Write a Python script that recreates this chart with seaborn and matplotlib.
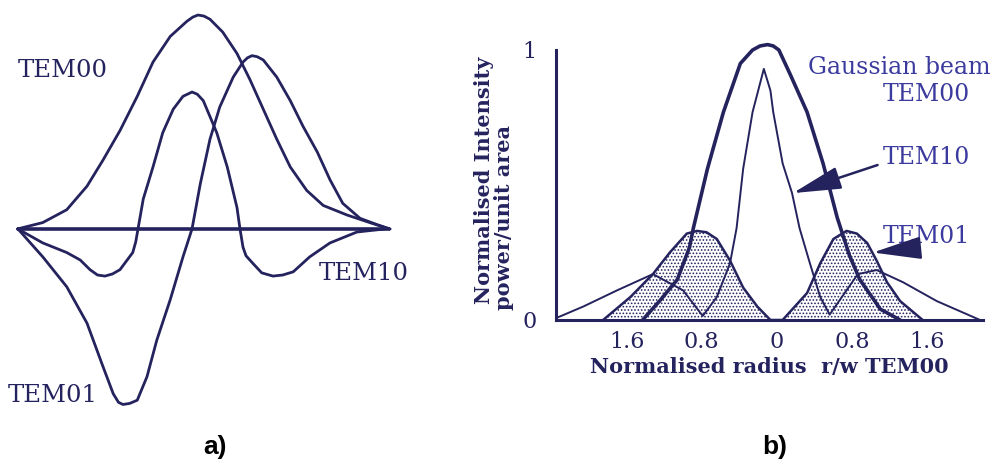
import matplotlib
matplotlib.use("Agg")
import matplotlib.pyplot as plt
import seaborn as sns

# style
sns.set_style("white")
plt.rcParams["font.family"] = ["DejaVu Serif"]
plt.rcParams["hatch.linewidth"] = 0.75

navy = "#25235e"
blue = "#3b3a9e"

# ---- panel a: field amplitude profiles
a_tem00_x = [-2.41, -2.07, -1.75, -1.48, -1.27, -1.04, -0.81, -0.60, -0.37, -0.15, -0.07,
             0.0, 0.08, 0.16, 0.33, 0.52, 0.69, 0.87, 1.05, 1.23, 1.45, 1.67, 1.99, 2.29, 2.56]
a_tem00_y = [0.0, 0.03, 0.09, 0.20, 0.32, 0.46, 0.62, 0.78, 0.90, 0.97, 0.99,
             1.0, 0.995, 0.98, 0.92, 0.82, 0.70, 0.56, 0.42, 0.29, 0.18, 0.11, 0.065, 0.03, 0.0]

a_tem10_x = [-2.40, -2.07, -1.75, -1.57, -1.44, -1.34, -1.24, -1.14, -1.04, -0.87, -0.83,
             -0.80, -0.73, -0.60, -0.47, -0.33, -0.20, -0.08, -0.01, 0.07, 0.25, 0.39,
             0.52, 0.56, 0.60, 0.64, 0.73, 0.85, 1.00, 1.13, 1.27, 1.49, 1.76, 2.12, 2.49]
a_tem10_y = [0.0, -0.065, -0.11, -0.145, -0.19, -0.215, -0.22, -0.21, -0.19, -0.11, -0.06,
             0.0, 0.14, 0.29, 0.45, 0.56, 0.62, 0.64, 0.63, 0.60, 0.45, 0.29,
             0.10, 0.0, -0.085, -0.125, -0.16, -0.205, -0.22, -0.215, -0.20, -0.13,
             -0.065, -0.014, 0.0]

a_tem01_x = [-2.40, -2.07, -1.75, -1.48, -1.27, -1.13, -1.06, -1.00, -0.91, -0.81, -0.68,
             -0.55, -0.37, -0.20, -0.08, 0.03, 0.16, 0.29, 0.47, 0.60, 0.66, 0.72, 0.79,
             0.87, 1.05, 1.23, 1.40, 1.59, 1.76, 1.93, 2.16, 2.39, 2.56]
a_tem01_y = [0.0, -0.13, -0.27, -0.44, -0.64, -0.77, -0.81, -0.82, -0.815, -0.80, -0.69,
             -0.52, -0.33, -0.13, 0.0, 0.21, 0.42, 0.57, 0.71, 0.78, 0.80, 0.81, 0.805,
             0.79, 0.71, 0.60, 0.48, 0.36, 0.23, 0.12, 0.05, 0.02, 0.0]

# ---- panel b: normalised intensity
b_tem00_x = [-1.43, -1.25, -1.06, -0.93, -0.89, -0.74, -0.57, -0.39, -0.26, -0.18, -0.10,
             -0.04, 0.02, 0.14, 0.32, 0.49, 0.64, 0.77, 0.88, 1.10, 1.31]
b_tem00_y = [0.0, 0.07, 0.15, 0.27, 0.34, 0.56, 0.77, 0.95, 1.00, 1.015, 1.02,
             1.015, 1.00, 0.91, 0.77, 0.58, 0.38, 0.24, 0.15, 0.04, 0.0]

b_tem10_x = [-2.33, -2.06, -1.70, -1.32, -1.00, -0.79, -0.64, -0.50, -0.43, -0.36, -0.26,
             -0.20, -0.14, -0.07, -0.04, 0.06, 0.16, 0.24, 0.35, 0.46, 0.56, 0.74, 0.86,
             1.06, 1.34, 1.70, 2.16]
b_tem10_y = [0.01, 0.05, 0.11, 0.17, 0.11, 0.015, 0.085, 0.21, 0.34, 0.56, 0.77,
             0.85, 0.93, 0.85, 0.77, 0.58, 0.47, 0.34, 0.21, 0.085, 0.02, 0.11, 0.17,
             0.185, 0.14, 0.07, 0.0]

b_tem01_x = [-1.85, -1.56, -1.32, -1.14, -0.96, -0.85, -0.75, -0.64, -0.50, -0.36, -0.21,
             -0.07, 0.06, 0.32, 0.46, 0.60, 0.74, 0.85, 0.96, 1.06, 1.17, 1.31, 1.55]
b_tem01_y = [0.0, 0.085, 0.17, 0.25, 0.32, 0.33, 0.325, 0.30, 0.22, 0.12, 0.05,
             0.0, 0.0, 0.10, 0.21, 0.30, 0.33, 0.32, 0.285, 0.22, 0.14, 0.07, 0.0]

b_xticks = [-1.6, -0.8, 0.0, 0.8, 1.6]
b_xticklabels = ["1.6", "0.8", "0", "0.8", "1.6"]
b_yticks = [0.0, 0.5, 1.0]
b_yticklabels = ["0", "", "1"]

W, H = 1001, 470
fig = plt.figure(figsize=(W / 100, H / 100), dpi=100)


def px_axes(x0, y0, x1, y1):
    return fig.add_axes([x0 / W, 1 - y1 / H, (x1 - x0) / W, (y1 - y0) / H])


def curve(ax, x, y, lw):
    sns.lineplot(x=x, y=y, ax=ax, sort=False, estimator=None, color=navy,
                 linewidth=lw, solid_joinstyle="round", solid_capstyle="round")
    ax.lines[-1].set_clip_on(False)


# ---- a)
ax1 = px_axes(0, 0, 420, 420)
ax1.set_xlim(-198 / 75, (420 - 198) / 75)
ax1.set_ylim((229 - 420) / 214, 229 / 214)
ax1.axis("off")

ax1.hlines(0, min(a_tem00_x), max(a_tem00_x), color=navy, lw=2.6)
curve(ax1, a_tem00_x, a_tem00_y, 2.0)
curve(ax1, a_tem10_x, a_tem10_y, 2.0)
curve(ax1, a_tem01_x, a_tem01_y, 2.0)

ax1.text(-1.81, 0.74, "TEM00", fontsize=17.5, color=navy, ha="center", va="center")
ax1.text(-1.94, -0.78, "TEM01", fontsize=17.5, color=navy, ha="center", va="center")
ax1.text(2.21, -0.21, "TEM10", fontsize=17.5, color=navy, ha="center", va="center")

# ---- b)
ax2 = px_axes(556, 50, 983, 320)
ax2.set_xlim((556 - 777) / 94, (983 - 777) / 94)
ax2.set_ylim(0, 1)

ax2.fill_between(b_tem01_x, 0, b_tem01_y, facecolor="white", hatch=".....",
                 edgecolor=navy, linewidth=0)
curve(ax2, b_tem10_x, b_tem10_y, 1.4)
curve(ax2, b_tem01_x, b_tem01_y, 1.8)
curve(ax2, b_tem00_x, b_tem00_y, 2.6)

sns.despine(ax=ax2)
for s in ["left", "bottom"]:
    ax2.spines[s].set_color(navy)
    ax2.spines[s].set_linewidth(2.2)

ax2.set_xticks(b_xticks)
ax2.set_xticklabels(b_xticklabels)
ax2.set_yticks(b_yticks)
ax2.set_yticklabels(b_yticklabels)
ax2.tick_params(axis="x", length=0, pad=8, labelsize=16, labelcolor=navy)
ax2.tick_params(axis="y", direction="in", length=11, width=1.6, color=navy,
                pad=14, labelsize=16, labelcolor=navy)
ax2.set_xticks([-1.6, -0.07], minor=True)
ax2.tick_params(axis="x", which="minor", direction="in", length=6, width=1.3, color=navy)

ax2.set_xlabel("Normalised radius  r/w TEM00", fontsize=15, fontweight="bold",
               color=navy, labelpad=3)

fig.text(484 / W, 1 - 180 / H, "Normalised Intensity", rotation=90, fontsize=15,
         fontweight="bold", color=navy, ha="center", va="center")
fig.text(504 / W, 1 - 218 / H, "power/unit area", rotation=90, fontsize=15,
         fontweight="bold", color=navy, ha="center", va="center")

ax2.text(0.33, 0.937, "Gaussian beam", fontsize=17, color=blue, ha="left", va="center")
ax2.text(1.13, 0.837, "TEM00", fontsize=17, color=blue, ha="left", va="center")
ax2.text(1.13, 0.60, "TEM10", fontsize=17, color=blue, ha="left", va="center")
ax2.text(1.13, 0.31, "TEM01", fontsize=17, color=blue, ha="left", va="center")

arrow = dict(arrowstyle="-|>,head_length=1.5,head_width=0.35", color=navy, lw=1.8,
             mutation_scale=20, shrinkA=0, shrinkB=0)
ax2.annotate("", xy=(0.17, 0.47), xytext=(1.07, 0.574), arrowprops=arrow,
             annotation_clip=False)
ax2.annotate("", xy=(1.02, 0.25), xytext=(1.52, 0.267), arrowprops=arrow,
             annotation_clip=False)

# panel letters
fig.text(215 / W, 1 - 447 / H, "a)", fontsize=19, fontweight="bold", color="black",
         family=["Liberation Sans", "DejaVu Sans"], ha="center", va="center")
fig.text(775 / W, 1 - 447 / H, "b)", fontsize=19, fontweight="bold", color="black",
         family=["Liberation Sans", "DejaVu Sans"], ha="center", va="center")

fig.savefig("out.png", dpi=100)
